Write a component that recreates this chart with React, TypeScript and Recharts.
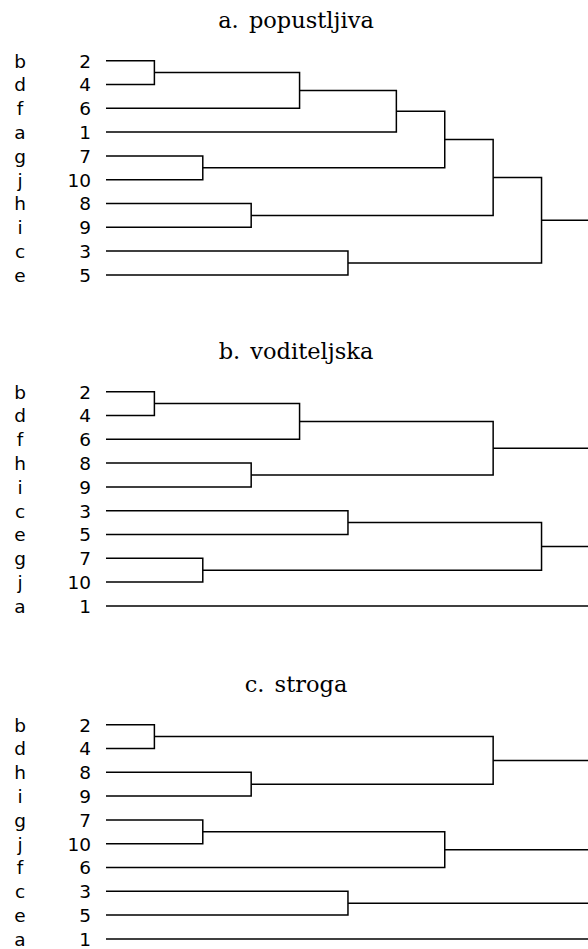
import { LineChart, Line, XAxis, YAxis } from 'recharts';

// leaf order top -> bottom, merge heights (shared axis, 1 unit ~ 48px)
type Merge = [string, string, number];

const titles = ['a. popustljiva', 'b. voditeljska', 'c. stroga'];

const lettersA = ['b', 'd', 'f', 'a', 'g', 'j', 'h', 'i', 'c', 'e'];
const numbersA = [2, 4, 6, 1, 7, 10, 8, 9, 3, 5];
const mergesA: Merge[] = [
  ['2', '4', 1], ['7', '10', 2], ['8', '9', 3], ['m0', '6', 4], ['3', '5', 5],
  ['m3', '1', 6], ['m5', 'm1', 7], ['m6', 'm2', 8], ['m7', 'm4', 9],
];

const lettersB = ['b', 'd', 'f', 'h', 'i', 'c', 'e', 'g', 'j', 'a'];
const numbersB = [2, 4, 6, 8, 9, 3, 5, 7, 10, 1];
const mergesB: Merge[] = [
  ['2', '4', 1], ['7', '10', 2], ['8', '9', 3], ['m0', '6', 4], ['3', '5', 5],
  ['m3', 'm2', 8], ['m4', 'm1', 9],
];

const lettersC = ['b', 'd', 'h', 'i', 'g', 'j', 'f', 'c', 'e', 'a'];
const numbersC = [2, 4, 8, 9, 7, 10, 6, 3, 5, 1];
const mergesC: Merge[] = [
  ['2', '4', 1], ['7', '10', 2], ['8', '9', 3], ['3', '5', 5],
  ['m1', '6', 7], ['m0', 'm2', 8],
];

const X_MAX = 9.96; // right edge of the crop
const CUT = 10.5; // unmerged clusters run off the edge

const panels = [
  { title: titles[0], letters: lettersA, numbers: numbersA, merges: mergesA, top: 0 },
  { title: titles[1], letters: lettersB, numbers: numbersB, merges: mergesB, top: 331 },
  { title: titles[2], letters: lettersC, numbers: numbersC, merges: mergesC, top: 664 },
];

type Pt = { x: number; y: number };

function buildLinks(order: number[], merges: Merge[]): Pt[][] {
  const pos: Record<string, { h: number; y: number }> = {};
  order.forEach((n, i) => { pos[String(n)] = { h: 0, y: i }; });
  const used = new Set<string>();
  const links: Pt[][] = merges.map(([a, b, h], i) => {
    const A = pos[a];
    const B = pos[b];
    used.add(a);
    used.add(b);
    pos[`m${i}`] = { h, y: (A.y + B.y) / 2 };
    return [
      { x: A.h, y: A.y },
      { x: h, y: A.y },
      { x: h, y: B.y },
      { x: B.h, y: B.y },
    ];
  });
  Object.keys(pos)
    .filter((k) => !used.has(k))
    .forEach((k) => links.push([{ x: pos[k].h, y: pos[k].y }, { x: CUT, y: pos[k].y }]));
  return links;
}

function LeafTick({ y, payload, letters, numbers }: any) {
  const i = payload.value;
  return (
    <g fontFamily="DejaVu Sans" fontSize={18.5} fill="#000">
      <text x={20} y={y + 6.8} textAnchor="middle">{letters[i]}</text>
      <text x={91} y={y + 6.8} textAnchor="end">{numbers[i]}</text>
    </g>
  );
}

function Dendrogram({ title, letters, numbers, merges, top }: any) {
  const links = buildLinks(numbers, merges);
  return (
    <div style={{ position: 'absolute', left: 0, top, width: 588, height: 290 }}>
      <svg width={588} height={40} style={{ position: 'absolute', left: 0, top: 0 }}>
        <text x={296} y={28} textAnchor="middle" fontFamily="DejaVu Serif" fontSize={22.5} wordSpacing={3} fill="#000">
          {title}
        </text>
      </svg>
      <div style={{ position: 'absolute', left: 0, top: 0 }}>
        <LineChart width={588} height={290} margin={{ top: 48.8, right: 0, bottom: 3.2, left: 0 }}>
          <XAxis type="number" dataKey="x" domain={[0, X_MAX]} allowDataOverflow hide />
          <YAxis
            type="number"
            domain={[-0.5, 9.5]}
            reversed
            allowDataOverflow
            width={106}
            ticks={[0, 1, 2, 3, 4, 5, 6, 7, 8, 9]}
            interval={0}
            axisLine={false}
            tickLine={false}
            tick={(props: any) => <LeafTick {...props} letters={letters} numbers={numbers} />}
          />
          {links.map((pts, i) => (
            <Line
              key={i}
              data={pts}
              dataKey="y"
              type="linear"
              stroke="#000"
              strokeWidth={1.5}
              dot={false}
              activeDot={false}
              isAnimationActive={false}
            />
          ))}
        </LineChart>
      </div>
    </div>
  );
}

export default function App() {
  return (
    <div style={{ position: 'absolute', left: 0, top: 0, width: 588, height: 949, overflow: 'hidden', background: '#fff' }}>
      {panels.map((p) => (
        <Dendrogram key={p.title} {...p} />
      ))}
    </div>
  );
}
